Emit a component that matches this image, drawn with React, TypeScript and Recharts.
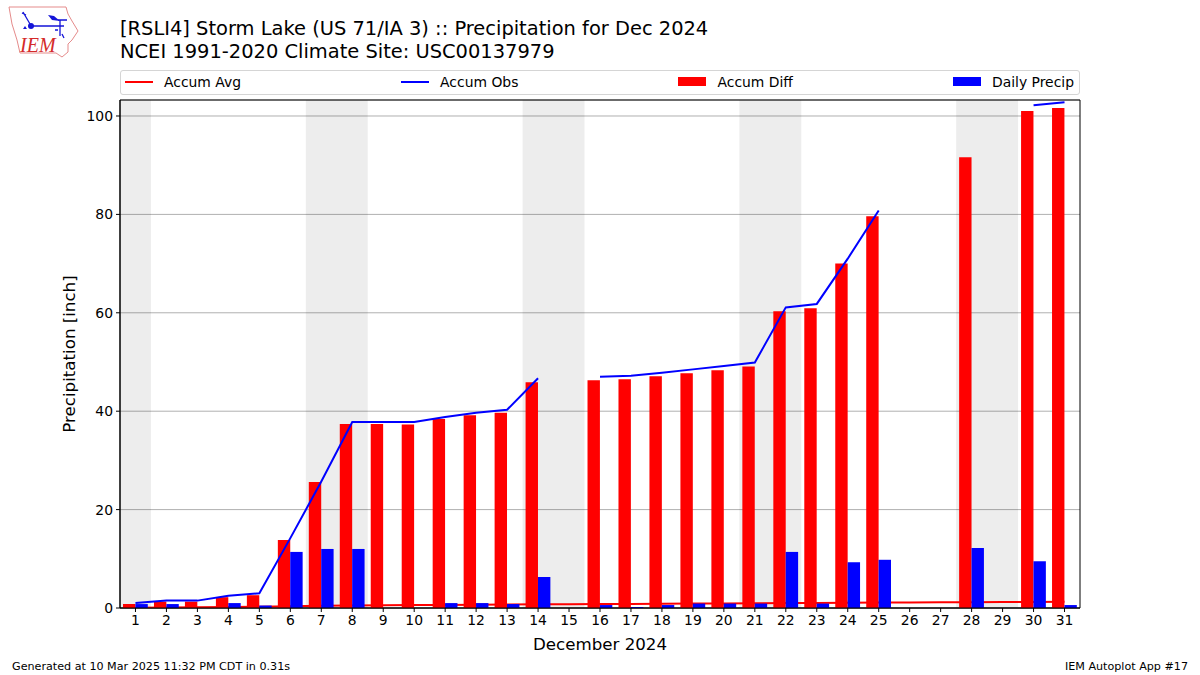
import { Bar, CartesianGrid, ComposedChart, Label, Legend, Line, ReferenceArea, XAxis, YAxis } from 'recharts';

const FONT = '"DejaVu Sans", sans-serif';

// days of December 2024, null means the value is missing in the source
const days = Array.from({ length: 31 }, (_, i) => i + 1);

const accumAvg = [
  0.05, 0.1, 0.15, 0.2, 0.25, 0.35, 0.45, 0.5, 0.55, 0.6, 0.62, 0.65, 0.7, 0.75, 0.78, 0.8,
  0.82, 0.85, 0.9, 0.92, 0.95, 1.0, 1.02, 1.05, 1.1, 1.12, 1.15, 1.18, 1.2, 1.22, 1.25,
];

const accumObs = [
  1.0, 1.5, 1.5, 2.5, 3.0, 14.2, 25.7, 37.8, 37.8, 37.8, 38.8, 39.7, 40.3, 46.7, null, 47.0,
  47.2, 47.8, 48.5, 49.2, 49.9, 61.1, 61.8, 71.0, 80.8, null, null, null, null, 102.2, 102.8,
];

const accumDiff = [
  0.8, 1.3, 1.3, 2.2, 2.6, 13.8, 25.6, 37.4, 37.4, 37.3, 38.4, 39.2, 39.7, 45.9, null, 46.3,
  46.5, 47.1, 47.7, 48.3, 49.1, 60.3, 60.9, 70.0, 79.6, null, null, 91.6, null, 101.0, 101.6,
];

const dailyPrecip = [
  0.8, 0.8, 0, 1.0, 0.5, 11.4, 12.0, 12.0, 0, 0, 1.0, 1.0, 0.8, 6.3, 0, 0.6,
  0.2, 0.6, 0.9, 0.9, 0.9, 11.4, 0.9, 9.3, 9.8, 0, 0, 12.2, 0, 9.5, 0.6,
];

const yTicks = [0, 20, 40, 60, 80, 100];
const weekends: [number, number][] = [
  [0.5, 1.5],
  [6.5, 8.5],
  [13.5, 15.5],
  [20.5, 22.5],
  [27.5, 29.5],
];

const legendItems = [
  { name: 'Accum Avg', color: '#ff0000', kind: 'line' },
  { name: 'Accum Obs', color: '#0000ff', kind: 'line' },
  { name: 'Accum Diff', color: '#ff0000', kind: 'box' },
  { name: 'Daily Precip', color: '#0000ff', kind: 'box' },
];

const chartData = days.map((day, i) => ({
  day,
  avg: accumAvg[i],
  obs: accumObs[i],
  diff: accumDiff[i],
  precip: dailyPrecip[i],
}));

function TopLegend() {
  return (
    <div
      style={{
        boxSizing: 'border-box',
        width: 960,
        height: 25,
        border: '1px solid #d5d5d5',
        borderRadius: 3,
        display: 'flex',
        justifyContent: 'space-between',
        alignItems: 'center',
        padding: '0 5px 2px 4px',
        fontFamily: FONT,
        fontSize: 13.9,
        color: '#000',
        background: '#fff',
      }}
    >
      {legendItems.map((item) => (
        <div key={item.name} style={{ display: 'flex', alignItems: 'center' }}>
          <span
            style={{
              display: 'inline-block',
              width: 28,
              height: item.kind === 'line' ? 2 : 9,
              background: item.color,
              marginRight: 11,
            }}
          />
          <span>{item.name}</span>
        </div>
      ))}
    </div>
  );
}

function Logo() {
  return (
    <svg width={84} height={62} style={{ position: 'absolute', left: 0, top: 0 }}>
      <path
        d="M9 7 L66 7 L68 14 L72 21 L78 31 L72 40 L68 44 L68 52 L62 57 L56 53 L20 53 L17 40 L12 24 Z"
        fill="none"
        stroke="#e58b8b"
        strokeWidth={1}
      />
      <path d="M31 26 L64 26 M58 20 L67 20 M60 20 L60 36 M55 30 L58 30 M62 34 L64 38 M23 12 L30 24 M22 13 L26 15" stroke="#1414d8" strokeWidth={1.3} fill="none" />
      <circle cx={31} cy={26} r={3} fill="#1414d8" />
      <path d="M48 15 L54 16 L60 21 L52 20 Z" fill="#1414d8" />
      <path d="M23 29 L25 26 L27 29 Z" fill="#1414d8" />
      <text x={20} y={52} fontFamily='"Liberation Serif", serif' fontStyle="italic" fontSize={20} fill="#d42a2a">
        IEM
      </text>
    </svg>
  );
}

export default function App() {
  return (
    <div style={{ position: 'absolute', left: 0, top: 0, width: 1200, height: 675, background: '#fff', fontFamily: FONT, color: '#000', overflow: 'hidden' }}>
      <ComposedChart
        width={1200}
        height={675}
        data={chartData}
        margin={{ top: 100, right: 120, bottom: 27, left: 60 }}
        barGap={0}
        barSize={12.4}
      >
        <CartesianGrid vertical={false} stroke="#b0b0b0" strokeWidth={1} />
        {weekends.map(([a, b]) => (
          <ReferenceArea key={a} x1={a} x2={b} y1={0} y2={103.25} fill="#000" fillOpacity={0.07} stroke="none" />
        ))}
        <XAxis
          dataKey="day"
          type="number"
          domain={[0.5, 31.5]}
          ticks={days}
          interval={0}
          height={40}
          allowDataOverflow
          tick={{ fill: '#000', fontSize: 13.9, fontFamily: FONT }}
          tickSize={4}
          tickMargin={3}
          axisLine={{ stroke: '#000' }}
          tickLine={{ stroke: '#000' }}
        >
          <Label value="December 2024" position="insideBottom" offset={-2} fill="#000" fontSize={16.67} fontFamily={FONT} />
        </XAxis>
        <YAxis
          type="number"
          domain={[0, 103.25]}
          ticks={yTicks}
          width={60}
          allowDataOverflow
          tick={{ fill: '#000', fontSize: 13.9, fontFamily: FONT }}
          tickSize={4}
          tickMargin={3}
          axisLine={{ stroke: '#000' }}
          tickLine={{ stroke: '#000' }}
        >
          <Label value="Precipitation [inch]" angle={-90} position="insideLeft" offset={9} fill="#000" fontSize={16.67} fontFamily={FONT} style={{ textAnchor: 'middle' }} />
        </YAxis>
        <Legend
          layout="horizontal"
          verticalAlign="middle"
          wrapperStyle={{ left: 120, top: 70, width: 960, height: 25 }}
          content={() => <TopLegend />}
        />
        {/* avg sits under the bars, obs stays on top like in the source plot */}
        <Line dataKey="avg" name="Accum Avg" stroke="#ff0000" strokeWidth={2} dot={false} activeDot={false} isAnimationActive={false} zIndex={250} />
        <Bar dataKey="diff" name="Accum Diff" fill="#ff0000" isAnimationActive={false} />
        <Bar dataKey="precip" name="Daily Precip" fill="#0000ff" isAnimationActive={false} />
        <Line dataKey="obs" name="Accum Obs" stroke="#0000ff" strokeWidth={2} dot={false} activeDot={false} isAnimationActive={false} />
        <ReferenceArea x1={0.5} x2={31.5} y1={0} y2={103.25} fill="none" stroke="#000" strokeWidth={1} />
      </ComposedChart>
      <Logo />
      <div style={{ position: 'absolute', left: 120, top: 18, fontSize: 19.45, lineHeight: '22.5px', whiteSpace: 'nowrap' }}>
        [RSLI4] Storm Lake (US 71/IA 3) :: Precipitation for Dec 2024
        <br />
        NCEI 1991-2020 Climate Site: USC00137979
      </div>
      <div style={{ position: 'absolute', left: 12, top: 660, fontSize: 11.15, whiteSpace: 'nowrap' }}>
        Generated at 10 Mar 2025 11:32 PM CDT in 0.31s
      </div>
      <div style={{ position: 'absolute', right: 12, top: 660, fontSize: 11.15, whiteSpace: 'nowrap' }}>
        IEM Autoplot App #17
      </div>
    </div>
  );
}
